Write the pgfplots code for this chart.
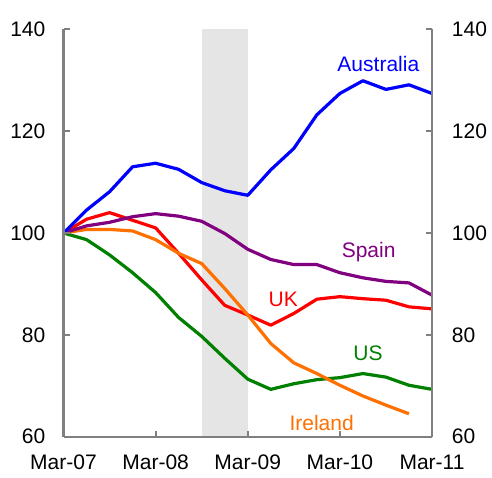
\documentclass[border=0pt]{standalone}
\usepackage{fontspec}
\setmainfont{Liberation Sans}
\usepackage{pgfplots}
\usepackage{pgfplotstable}
\pgfplotsset{compat=1.18}
\definecolor{aus}{RGB}{0,0,255}
\definecolor{spn}{RGB}{128,0,128}
\definecolor{ukc}{RGB}{255,0,0}
\definecolor{usc}{RGB}{0,128,0}
\definecolor{irl}{RGB}{255,112,0}
\definecolor{shade}{RGB}{229,229,229}
\definecolor{axgray}{RGB}{128,128,128}

% quarter index: 0 = Mar-07 ... 16 = Mar-11
\pgfplotstableread{
q   aus    spn    uk     us     
0   100.0  100.0  100.0  100.0  
1   104.5  101.4  102.7  98.7   
2   108.1  102.1  104.0  95.7   
3   113.0  103.2  102.5  92.2   
4   113.7  103.8  101.0  88.3   
5   112.5  103.3  96.0   83.4   
6   109.9  102.3  90.8   79.7   
7   108.3  99.9   85.8   75.4   
8   107.4  96.8   83.9   71.3   
9   112.4  94.8   81.9   69.3   
10  116.6  93.8   84.2   70.4   
11  123.2  93.8   87.0   71.2   
12  127.4  92.2   87.5   71.6   
13  129.9  91.2   87.1   72.4   
14  128.2  90.5   86.8   71.7   
15  129.1  90.2   85.5   70.1   
16  127.4  87.8   85.1   69.3   
}\maindata

\pgfplotstableread{
q   irl
0   100.0
1   100.7
2   100.7
3   100.4
4   98.7
5   96.0
6   94.0
7   89.1
8   83.9
9   78.3
10  74.5
11  72.4
12  70.1
13  68.0
14  66.2
15  64.5
}\irldata

\pgfplotsset{
  base/.style={
    scale only axis, width=368.5bp, height=407.4bp,
    xmin=0, xmax=16, ymin=60, ymax=140,
    ytick={60,80,...,140},
    tick align=inside, major tick length=6bp,
    axis line style={draw=axgray, line width=2.2bp, -},
    tick style={draw=axgray, line width=2bp},
    /pgf/number format/assume math mode=true,
    ticklabel style={font=\fontsize{21bp}{25bp}\selectfont, inner sep=0pt},
  }
}

\begin{document}
\begin{tikzpicture}[font=\fontsize{21bp}{25bp}\selectfont]
\useasboundingbox (0,0) rectangle (492bp,478bp);
\begin{axis}[base, at={(63.5bp,41.3bp)}, anchor=south west,
  axis x line*=bottom, axis y line*=left, axis on top,
  xtick={0,4,8,12,16},
  xticklabels={Mar-07,Mar-08,Mar-09,Mar-10,Mar-11},
  xticklabel style={yshift=-18bp},
  yticklabel style={xshift=-18bp},
  every axis plot/.append style={line width=3.2bp, line join=round},
]
\addplot[fill=shade, draw=none, line width=0pt] coordinates {(6,60) (8,60) (8,140) (6,140)} -- cycle;
\addplot[usc] table[x=q,y=us] {\maindata};
\addplot[ukc] table[x=q,y=uk] {\maindata};
\addplot[irl] table[x=q,y=irl] {\irldata};
\addplot[spn] table[x=q,y=spn] {\maindata};
\addplot[aus] table[x=q,y=aus] {\maindata};
\node[anchor=base, inner sep=0pt, text=aus] at (axis cs:13.67,131.67) {Australia};
\node[anchor=base, inner sep=0pt, text=spn] at (axis cs:13.25,95.13) {Spain};
\node[anchor=base, inner sep=0pt, text=ukc] at (axis cs:9.54,85.64) {UK};
\node[anchor=base, inner sep=0pt, text=usc] at (axis cs:13.22,75.03) {US};
\node[anchor=base, inner sep=0pt, text=irl] at (axis cs:11.21,61.28) {Ireland};
\node[anchor=base west, inner sep=0pt] at (rel axis cs:0,1) [xshift=1.5bp, yshift=7bp] {Index (Mar-07=100)};
\end{axis}
\begin{axis}[base, at={(63.5bp,41.3bp)}, anchor=south west,
  axis x line=none, axis y line*=right,
  yticklabel style={xshift=19.7bp},
]
\addplot[draw=none] coordinates {(0,100)};
\end{axis}
\end{tikzpicture}
\end{document}
